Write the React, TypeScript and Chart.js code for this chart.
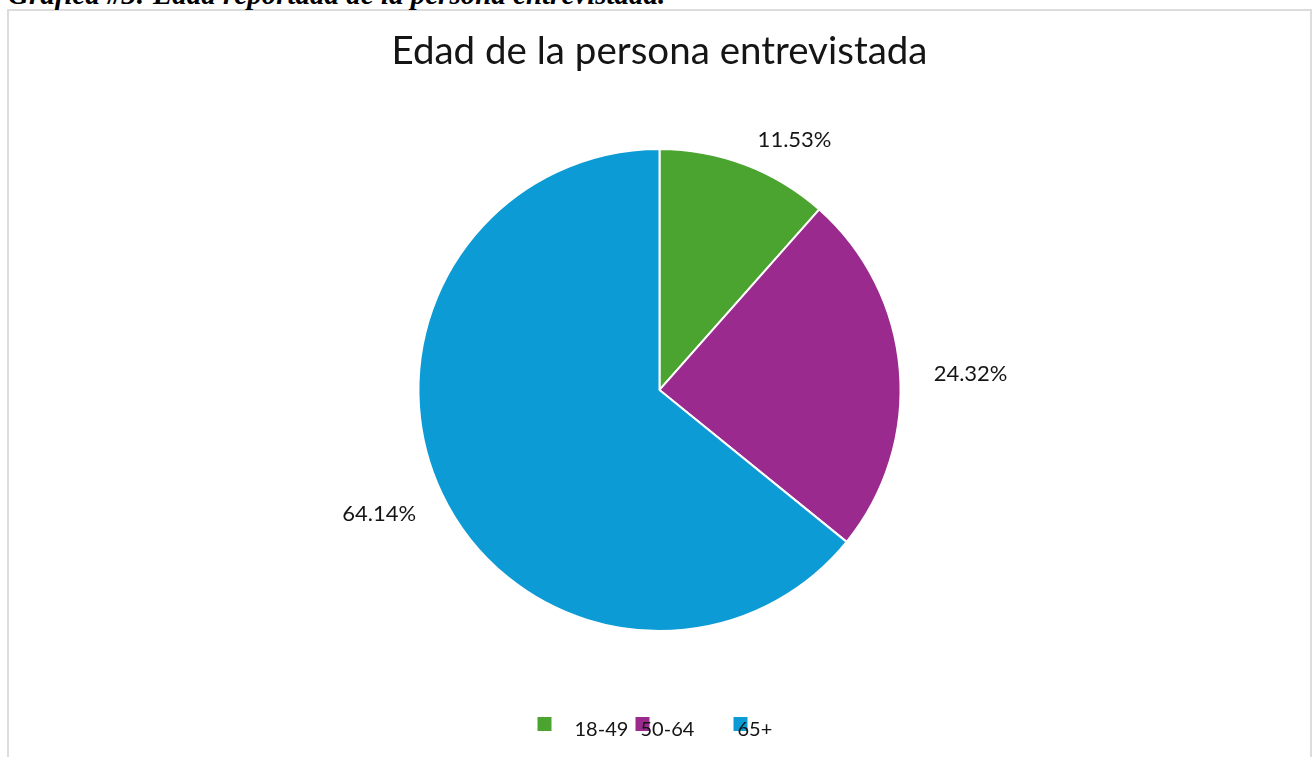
import React, { useEffect, useRef } from "react";
import { Chart, registerables } from "chart.js";

Chart.register(...registerables);

const categories = ["18-49", "50-64", "65+"];
const values = [11.53, 24.32, 64.14];
const colors = ["#4ba42f", "#9a2a8e", "#0c9bd4"];
const chartTitle = "Edad de la persona entrevistada";
const heading = "Gráfica #3: Edad reportada de la persona entrevistada.";

const FONT = "Lato, 'Noto Sans', sans-serif";
const TEXT = "#151515";

const sliceLabels = {
  id: "sliceLabels",
  afterDatasetsDraw(chart: any) {
    const ctx = chart.ctx;
    const meta = chart.getDatasetMeta(0);
    ctx.save();
    ctx.font = `22px ${FONT}`;
    ctx.fillStyle = TEXT;
    ctx.textBaseline = "middle";
    meta.data.forEach((arc: any, i: number) => {
      const { x, y, startAngle, endAngle, outerRadius } = arc.getProps(
        ["x", "y", "startAngle", "endAngle", "outerRadius"],
        true
      );
      const mid = (startAngle + endAngle) / 2;
      const d = outerRadius + 33;
      const ax = x + Math.cos(mid) * d;
      const ay = y + Math.sin(mid) * d + 6;
      const right = Math.cos(mid) >= 0;
      ctx.textAlign = right ? "left" : "right";
      ctx.fillText(values[i].toFixed(2) + "%", ax + (right ? 1 : 4), ay);
    });
    ctx.restore();
  },
};

const textShift = [37, 5, 4];

const bottomLegend = {
  id: "bottomLegend",
  afterDraw(chart: any) {
    const ctx = chart.ctx;
    const cx = chart.width / 2;
    const boxTop = chart.height - 40;
    const textY = chart.height - 27;
    ctx.save();
    categories.forEach((_c, i) => {
      const bx = cx - 122 + i * 98;
      ctx.fillStyle = colors[i];
      ctx.fillRect(bx, boxTop, 14, 14);
    });
    ctx.font = `20px ${FONT}`;
    ctx.fillStyle = TEXT;
    ctx.textBaseline = "middle";
    ctx.textAlign = "left";
    categories.forEach((c, i) => {
      const bx = cx - 122 + i * 98;
      ctx.fillText(c, bx + textShift[i], textY);
    });
    ctx.restore();
  },
};

export default function App() {
  const ref = useRef<HTMLCanvasElement | null>(null);

  useEffect(() => {
    if (!ref.current) return;
    const chart = new Chart(ref.current, {
      type: "pie",
      data: {
        labels: categories,
        datasets: [
          {
            data: values,
            backgroundColor: colors,
            borderColor: "#ffffff",
            borderWidth: 2,
          },
        ],
      },
      options: {
        responsive: false,
        animation: false,
        layout: { padding: { top: 0, bottom: 125, left: 0, right: 0 } },
        plugins: {
          title: {
            display: true,
            text: chartTitle,
            color: TEXT,
            font: { family: FONT, size: 38.5, weight: "normal" },
            padding: { top: 17, bottom: 73.7 },
          },
          legend: { display: false },
          tooltip: { enabled: false },
        },
      },
      plugins: [sliceLabels, bottomLegend],
    } as any);
    return () => chart.destroy();
  }, []);

  return (
    <div
      style={{
        position: "absolute",
        left: 0,
        top: 0,
        width: 1314,
        height: 757,
        overflow: "hidden",
        background: "#ffffff",
      }}
    >
      <div
        style={{
          position: "absolute",
          left: 7,
          top: 9,
          width: 1305,
          height: 770,
          boxSizing: "border-box",
          border: "2px solid #dcdcdc",
          borderBottom: "none",
        }}
      >
        <canvas
          ref={ref}
          width={1301}
          height={746}
          style={{ position: "absolute", left: 0, top: 0, width: 1301, height: 746 }}
        />
      </div>
      <div
        style={{
          position: "absolute",
          left: 8,
          top: -20,
          fontFamily: "'Liberation Serif', 'Times New Roman', serif",
          fontWeight: "bold",
          fontStyle: "italic",
          fontSize: 29,
          lineHeight: "29px",
          whiteSpace: "nowrap",
          color: "#000000",
        }}
      >
        {heading}
      </div>
    </div>
  );
}
